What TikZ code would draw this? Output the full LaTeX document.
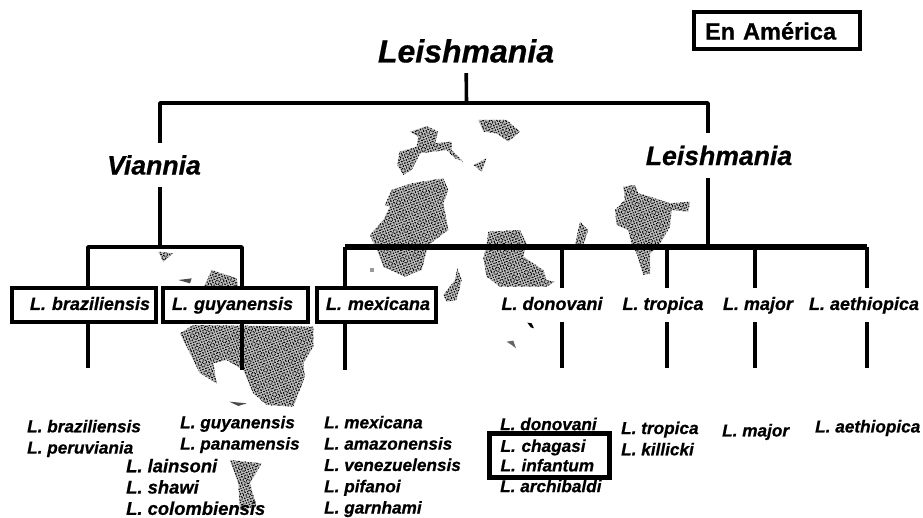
\documentclass[tikz,border=0pt]{standalone}
\usepackage{fontspec}
\setmainfont[BoldFeatures={FakeBold=0.6}, BoldItalicFeatures={FakeBold=0.6}]{Liberation Sans}
\usetikzlibrary{patterns.meta}

\tikzset{
  taxon/.style={font=\bfseries\itshape\fontsize{#1}{#1}\selectfont, inner sep=0pt},
  species/.style={taxon=18, minimum height=34pt, text height=13pt, text depth=3pt},
  spbox/.style={species, draw, line width=4pt, inner xsep=6pt, align=right},
  leaf/.style={font=\bfseries\itshape\fontsize{17.2}{21.3}\selectfont, inner sep=0pt, align=left, anchor=west},
  branch/.style={line width=3.6pt, line join=round},
  stem/.style={line width=4.4pt},
  mainbar/.style={line width=5.6pt, line join=round},
  mapblob/.style={preaction={fill=black!25},
    preaction={pattern={Dots[radius=0.75pt, distance=2.6pt, angle=20]}},
    pattern={Dots[radius=0.7pt, distance=3.1pt, angle=65]}},
}

\begin{document}
\begin{tikzpicture}[x=1pt, y=-1pt]

  \useasboundingbox (0,0) rectangle (923,518);

  % 1. stippled map, lying under the tree
  % --- blobs north of the main bar ---
  \begin{scope}[shift={(340,90)}, scale=0.3333]
    \fill[mapblob] (210,125) -- (260,108) -- (295,125) -- (285,160) -- (335,155) -- (335,180) -- (370,215)
      -- (345,205) -- (320,180) -- (280,185) -- (240,190) -- (215,240) -- (190,255) -- (172,225) -- (178,185)
      -- (230,170) -- (235,140) -- cycle;
    \fill[mapblob] (155,300) -- (215,280) -- (310,265) -- (325,300) -- (310,340) -- (325,420) -- (265,465)
      -- (245,540) -- (195,560) -- (130,530) -- (115,490) -- (90,435) -- (130,390) -- (150,350) -- (135,345) -- cycle;
    \fill[mapblob] (445,425) -- (540,420) -- (560,460) -- (550,500) -- (610,540) -- (620,570) -- (645,575)
      -- (620,590) -- (480,590) -- (440,560) -- (430,505) -- (440,465) -- cycle;
    \fill[mapblob] (310,615) -- (345,570) -- (352,535) -- (365,570) -- (350,630) -- (320,635) -- cycle;
    \fill[mapblob] (415,90) -- (500,90) -- (540,125) -- (505,155) -- (470,130) -- (430,125) -- cycle;
    \fill[mapblob] (400,225) -- (440,205) -- (425,245) -- cycle;
    \fill[mapblob] (705,465) -- (720,395) -- (745,420) -- (730,465) -- cycle;
    % specks
    \fill[black!40] (90,535) rectangle (103,545);
    \fill (562,698) -- (575,700) -- (582,715) -- (572,712) -- cycle;
    \fill[black!60] (500,755) -- (520,752) -- (528,775) -- (515,765) -- cycle;
  \end{scope}

  % --- blobs round the boxes on the left ---
  \begin{scope}[shift={(0,230)}, scale=0.3333]
    \fill[mapblob] (540,310) -- (580,285) -- (940,290) -- (940,350) -- (910,400) -- (915,440) -- (880,530)
      -- (800,525) -- (760,490) -- (730,420) -- (680,390) -- (640,400) -- (650,460) -- (600,430) -- (570,370) -- cycle;
    \fill[mapblob] (610,175) -- (635,120) -- (710,145) -- (715,175) -- cycle;
    \fill[mapblob] (475,65) -- (520,70) -- (490,95) -- cycle;
    \fill[mapblob] (690,690) -- (785,700) -- (750,760) -- (770,830) -- (720,840) -- (715,760) -- cycle;
    % specks
    \fill[black!70] (535,150) -- (575,145) -- (570,160) -- cycle;
    \fill[black!70] (688,515) -- (740,520) -- (715,528) -- cycle;
  \end{scope}

  % --- blob at the right ---
  \begin{scope}[shift={(600,130)}, scale=0.3333]
    \fill[mapblob] (70,170) -- (105,165) -- (115,190) -- (150,200) -- (210,220) -- (270,215) -- (265,245)
      -- (215,240) -- (210,290) -- (175,350) -- (150,370) -- (150,430) -- (130,435) -- (110,370) -- (95,345)
      -- (85,300) -- (50,285) -- (45,240) -- (75,210) -- cycle;
  \end{scope}

  % 2. genus, subgenera and the legend
  \node[taxon=32, minimum height=44pt] (genus) at (466,51) {Leishmania};
  \node[taxon=26.6, minimum height=44pt] (viannia) at (154,165) {Viannia};
  \node[taxon=26.6, minimum height=45pt] (subgenus) at (719,155.5) {Leishmania};
  \node[draw, line width=4pt, inner xsep=11pt, minimum height=37pt, text width=144pt, align=left,
        font=\bfseries\fontsize{23.6}{24}\selectfont] (america) at (777,31) {En América};

  % 3. species row
  \node[spbox, text width=132pt] (braziliensis) at (84,305) {L. braziliensis};
  \node[spbox, text width=127pt, inner xsep=9pt, align=left] (guyanensis) at (235.5,305) {L. guyanensis};
  \node[spbox, text width=107pt] (mexicana) at (376.5,305) {L. mexicana};
  \node[species] (donovani) at (552,305) {L. donovani};
  \node[species] (tropica) at (663,305) {L. tropica};
  \node[species] (major) at (758,305) {L. major};
  \node[species] (aethiopica) at (864,305) {L. aethiopica};

  % 4. species lists
  \node[leaf] (listbra) at (27,438.5) {L. braziliensis\\L. peruviania};
  \node[leaf] (listguy) at (180,434.5) {L. guyanensis\\L. panamensis};
  \node[leaf, font=\bfseries\itshape\fontsize{18.4}{21.3}\selectfont] (listlai) at (126,487) {L. lainsoni\\L. shawi\\L. colombiensis};
  \node[leaf] (listmex) at (324,466.5) {L. mexicana\\L. amazonensis\\L. venezuelensis\\L. pifanoi\\L. garnhami};
  \node[leaf] (listdon) at (500,424) {L. donovani};
  \node[leaf] (listarc) at (500,486) {L. archibaldi};
  \node[leaf, draw, line width=5pt, anchor=north west, inner xsep=11pt, inner ysep=0pt, minimum height=44pt,
        text width=98pt, font=\bfseries\itshape\fontsize{17.2}{19.5}\selectfont] (listcha) at (487,431) {L. chagasi\\L. infantum};
  \node[leaf] (listtro) at (621,438.5) {L. tropica\\L. killicki};
  \node[leaf] (listmaj) at (722,432) {L. major};
  \node[leaf] (listaet) at (815,428) {L. aethiopica};

  % 5. junctions and free ends of the tree
  \coordinate (jgenus) at (466.5,103);
  \coordinate (jviannia) at (160,103);
  \coordinate (jsubgenus) at (708,103);
  \coordinate (jleft) at (160,247);
  \coordinate (jright) at (708,247);
  \coordinate (jbra) at (88,247);
  \coordinate (jguy) at (242,247);
  \coordinate (jmex) at (345,247);
  \coordinate (jdon) at (562,247);
  \coordinate (jtro) at (667,247);
  \coordinate (jmaj) at (755,247);
  \coordinate (jaet) at (867,247);
  \coordinate (endbra) at (88,368);
  \coordinate (endguy) at (242,370);
  \coordinate (endmex) at (345,370);
  \coordinate (enddon) at (562,368);
  \coordinate (endtro) at (667,368);
  \coordinate (endmaj) at (755,368);
  \coordinate (endaet) at (867,368);

  % 6. connectors
  \draw[branch] (genus) -- (jgenus);
  \draw[branch] (viannia.north -| jviannia) -- (jviannia) -- (jsubgenus) -- (jsubgenus |- subgenus.north);
  \draw[branch] (jleft |- viannia.south) -- (jleft);
  \draw[branch] (jbra |- braziliensis.north) -- (jbra) -- (jguy) -- (jguy |- guyanensis.north);
  \draw[stem] (jright |- subgenus.south) -- (jright);
  \draw[mainbar] (jmex) -- (jaet);
  \draw[stem] (jmex) -- (jmex |- mexicana.north);
  \draw[stem] (jdon) -- (jdon |- donovani.north);
  \draw[stem] (jtro) -- (jtro |- tropica.north);
  \draw[stem] (jmaj) -- (jmaj |- major.north);
  \draw[stem] (jaet) -- (jaet |- aethiopica.north);

  % lower stems
  \draw[stem] (endbra |- braziliensis.south) -- (endbra);
  \draw[stem] (endguy |- guyanensis.south) -- (endguy);
  \draw[stem] (endmex |- mexicana.south) -- (endmex);
  \draw[stem] (enddon |- donovani.south) -- (enddon);
  \draw[stem] (endtro |- tropica.south) -- (endtro);
  \draw[stem] (endmaj |- major.south) -- (endmaj);
  \draw[stem] (endaet |- aethiopica.south) -- (endaet);

\end{tikzpicture}
\end{document}
